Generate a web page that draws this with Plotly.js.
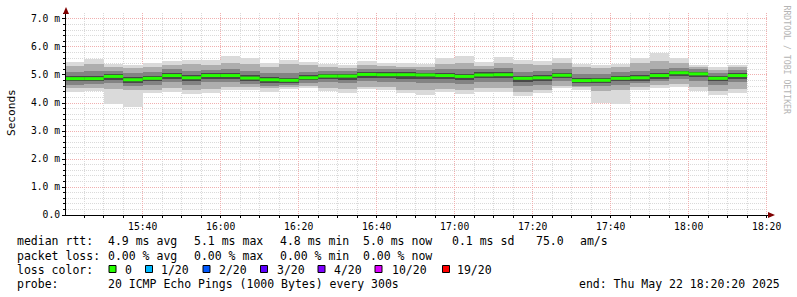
<!DOCTYPE html>
<html><head><meta charset="utf-8">
<script src="https://cdn.plot.ly/plotly-3.0.1.min.js"></script>
<style>html,body{margin:0;padding:0;background:#fff;}#chart{width:797px;height:297px;}</style>
</head><body><div id="chart"></div>
<script>
// 5-minute bins (start times), 22 May 2025
const binStart = ['15:20','15:25','15:30','15:35','15:40','15:45','15:50','15:55',
  '16:00','16:05','16:10','16:15','16:20','16:25','16:30','16:35','16:40','16:45','16:50','16:55',
  '17:00','17:05','17:10','17:15','17:20','17:25','17:30','17:35','17:40','17:45','17:50','17:55',
  '18:00','18:05','18:10'];
// RTT values in ms
const median = [4.87,4.87,4.95,4.83,4.88,4.98,4.90,4.98,4.98,4.89,4.83,4.81,4.90,4.96,4.96,5.02,5.01,5.01,5.00,4.98,4.95,5.00,5.01,4.88,4.90,4.99,4.80,4.81,4.88,4.90,4.98,5.08,5.04,4.88,4.98];
const pMax   = [5.45,5.56,5.39,5.36,5.42,5.50,5.54,5.52,5.68,5.61,5.44,5.54,5.48,5.38,5.36,5.50,5.44,5.42,5.39,5.60,5.68,5.45,5.63,5.54,5.50,5.61,5.39,5.35,5.39,5.61,5.80,5.60,5.36,5.27,5.36];
const pMin   = [4.40,4.44,3.95,3.87,4.35,4.40,4.32,4.37,4.46,4.46,4.40,4.49,4.52,4.44,4.37,4.49,4.46,4.35,4.29,4.38,4.33,4.39,4.40,4.26,4.37,4.52,4.46,3.99,3.95,4.46,4.55,4.58,4.44,4.29,4.37];
const hi1    = [5.33,5.40,5.28,5.24,5.30,5.36,5.38,5.36,5.44,5.40,5.30,5.38,5.34,5.28,5.26,5.36,5.32,5.30,5.28,5.40,5.44,5.33,5.42,5.38,5.36,5.42,5.28,5.24,5.28,5.42,5.50,5.42,5.28,5.18,5.28];
const lo1    = [4.52,4.55,4.50,4.48,4.48,4.52,4.45,4.50,4.56,4.56,4.52,4.58,4.60,4.55,4.50,4.58,4.56,4.48,4.45,4.50,4.46,4.52,4.52,4.40,4.48,4.62,4.56,4.44,4.46,4.56,4.64,4.68,4.56,4.42,4.50];
const hi2    = [5.12,5.14,5.14,5.07,5.12,5.20,5.14,5.18,5.22,5.14,5.08,5.08,5.12,5.16,5.16,5.22,5.20,5.20,5.18,5.22,5.20,5.20,5.24,5.12,5.14,5.22,5.04,5.04,5.10,5.16,5.22,5.26,5.20,5.08,5.18];
const lo2    = [4.66,4.68,4.72,4.62,4.66,4.74,4.66,4.74,4.76,4.68,4.62,4.64,4.70,4.74,4.70,4.78,4.76,4.74,4.72,4.72,4.68,4.74,4.74,4.62,4.66,4.78,4.62,4.60,4.64,4.70,4.78,4.84,4.78,4.64,4.74];
const hi3    = [4.97,4.97,5.03,4.93,4.97,5.07,4.99,5.07,5.07,4.99,4.93,4.91,4.99,5.05,5.05,5.11,5.09,5.09,5.07,5.07,5.05,5.09,5.09,4.97,4.99,5.07,4.89,4.91,4.97,4.99,5.07,5.15,5.11,4.97,5.07];
const lo3    = [4.77,4.77,4.83,4.73,4.77,4.87,4.77,4.85,4.87,4.79,4.73,4.73,4.81,4.85,4.83,4.91,4.89,4.87,4.87,4.85,4.83,4.89,4.89,4.75,4.79,4.89,4.71,4.71,4.77,4.79,4.87,4.97,4.93,4.77,4.87];

const yTickVals = [0,1,2,3,4,5,6,7];
const yTickText = ['0.0','1.0 m','2.0 m','3.0 m','4.0 m','5.0 m','6.0 m','7.0 m'];

const statLine1 = ['median rtt:','4.9 ms avg','5.1 ms max','4.8 ms min','5.0 ms now','0.1 ms sd','75.0','am/s'];
const statLine2 = ['packet loss:','0.00 % avg','0.00 % max','0.00 % min','0.00 % now'];
const lossLabels = ['0','1/20','2/20','3/20','4/20','10/20','19/20'];
const lossColors = ['#26ff00','#00b8ff','#0059ff','#5e00ff','#7e00ff','#dd00ff','#ff0000'];
const probeText = '20 ICMP Echo Pings (1000 Bytes) every 300s';
const endText = 'end: Thu May 22 18:20:20 2025';

// ---- build
const BIN = 300000;
const dayBase = Date.UTC(2025,4,22);
const toStr = ms => new Date(ms).toISOString().replace('T',' ').slice(0,19);
const starts = binStart.map(t => dayBase + (parseInt(t.slice(0,2))*60 + parseInt(t.slice(3)))*60000);
const centers = starts.map(s => toStr(s + BIN/2));

const layers = [
  {lo:pMin, hi:pMax, color:'#dadada'},
  {lo:lo1, hi:hi1, color:'#aeaeae'},
  {lo:lo2, hi:hi2, color:'#838383'},
  {lo:lo3, hi:hi3, color:'#484848'}
];
const traces = layers.map(L => ({
  type:'bar', x:centers, base:L.lo, y:L.hi.map((h,i)=>h-L.lo[i]), width:BIN,
  marker:{color:L.color, line:{width:0}}, hoverinfo:'skip'
}));
const mx=[], my=[];
starts.forEach((s,i)=>{ mx.push(toStr(s), toStr(s+BIN), null); my.push(median[i], median[i], null); });
traces.push({type:'scatter', mode:'lines', x:mx, y:my, line:{color:'#26ff00', width:3}, hoverinfo:'skip'});

// pixel -> paper helpers for layout of the legend area
const L0=66, T0=13, PW=702, PH=202;
const PX = X => (X-L0)/PW;
const PY = Y => (T0+PH-Y)/PH;
const mono = 'DejaVu Sans Mono';
const ann = [];
function txt(s, X, Y, size, extra){
  ann.push(Object.assign({xref:'paper', yref:'paper', x:PX(X), y:PY(Y), xanchor:'left', yanchor:'middle',
    text:s, showarrow:false, borderpad:0, font:{family:mono, size:size||11.5, color:'#000'}}, extra||{}));
}
const line1X = [16,107,193,279,362,451.5,535.5,579];
statLine1.forEach((s,i)=>txt(s, line1X[i]-0.5, 241.5));
const line2X = [16,107,193,279,362];
statLine2.forEach((s,i)=>txt(s, line2X[i]-0.5, 255.5));
txt('loss color:', 15.5, 269.7);
const boxX = [109,145.5,203,260.5,318,375,442.5];
const labX = [124,160,218,276,333,391,456.5];
const shapes = [];
lossLabels.forEach((s,i)=>{
  shapes.push({type:'rect', xref:'paper', yref:'paper', x0:PX(boxX[i]), x1:PX(boxX[i]+7), y0:PY(272.5), y1:PY(265.5),
    fillcolor:lossColors[i], line:{color:'#000', width:1}});
  txt(s, labX[i]-0.5, 269.7);
});
txt('probe:', 15.5, 283.8);
txt(probeText, 106.5, 283.8);
txt(endText, 577.8, 283.8);
// y-axis title and watermark
ann.push({xref:'paper', yref:'paper', x:PX(11), y:PY(113), xanchor:'center', yanchor:'middle', text:'Seconds',
  textangle:-90, showarrow:false, font:{family:mono, size:11.1, color:'#000'}});
ann.push({xref:'paper', yref:'paper', x:PX(786.5), y:PY(60), xanchor:'center', yanchor:'middle', text:'RRDTOOL / TOBI OETIKER',
  textangle:90, showarrow:false, font:{family:mono, size:8.2, color:'#b4b4b4'}});
// axis arrows
shapes.push({type:'path', xref:'paper', yref:'paper', path:`M ${PX(66)} ${PY(7)} L ${PX(63)} ${PY(14)} L ${PX(69)} ${PY(14)} Z`, fillcolor:'#7f0000', line:{width:0}});
shapes.push({type:'path', xref:'paper', yref:'paper', path:`M ${PX(775)} ${PY(215)} L ${PX(768)} ${PY(212)} L ${PX(768)} ${PY(218)} Z`, fillcolor:'#7f0000', line:{width:0}});

const MAJ = '#f0b0b0', MIN = '#dadada';
const layout = {
  width:797, height:297, margin:{l:L0, r:797-L0-PW, t:T0, b:297-T0-PH, pad:0},
  paper_bgcolor:'#fff', plot_bgcolor:'#fff', barmode:'overlay', bargap:0, showlegend:false,
  font:{family:mono, size:9.7, color:'#000'},
  xaxis:{type:'date', range:['2025-05-22 15:20:20','2025-05-22 18:20:20'], tickmode:'linear',
    tick0:'2025-05-22 15:40:00', dtick:1200000, tickformat:'%H:%M',
    showgrid:true, gridcolor:MAJ, griddash:'1px,1px', gridwidth:1,
    ticks:'outside', ticklen:2, tickcolor:'#000', showline:true, linecolor:'#000', linewidth:1, zeroline:false,
    minor:{tick0:'2025-05-22 15:40:00', dtick:300000, showgrid:true, gridcolor:MIN, griddash:'1px,1px', ticks:'outside', ticklen:2, tickcolor:'#000'},
    fixedrange:true},
  yaxis:{range:[0,7.214], tickmode:'array', tickvals:yTickVals, ticktext:yTickText,
    showgrid:true, gridcolor:MAJ, griddash:'1px,1px', gridwidth:1,
    ticks:'outside', ticklen:3, tickcolor:'#000', showline:true, linecolor:'#000', linewidth:1, zeroline:false,
    minor:{tick0:0, dtick:0.2, showgrid:true, gridcolor:MIN, griddash:'1px,1px', ticks:'outside', ticklen:2, tickcolor:'#000'},
    fixedrange:true},
  annotations:ann, shapes:shapes
};
Plotly.newPlot('chart', traces, layout, {displayModeBar:false, staticPlot:true});
</script></body></html>
